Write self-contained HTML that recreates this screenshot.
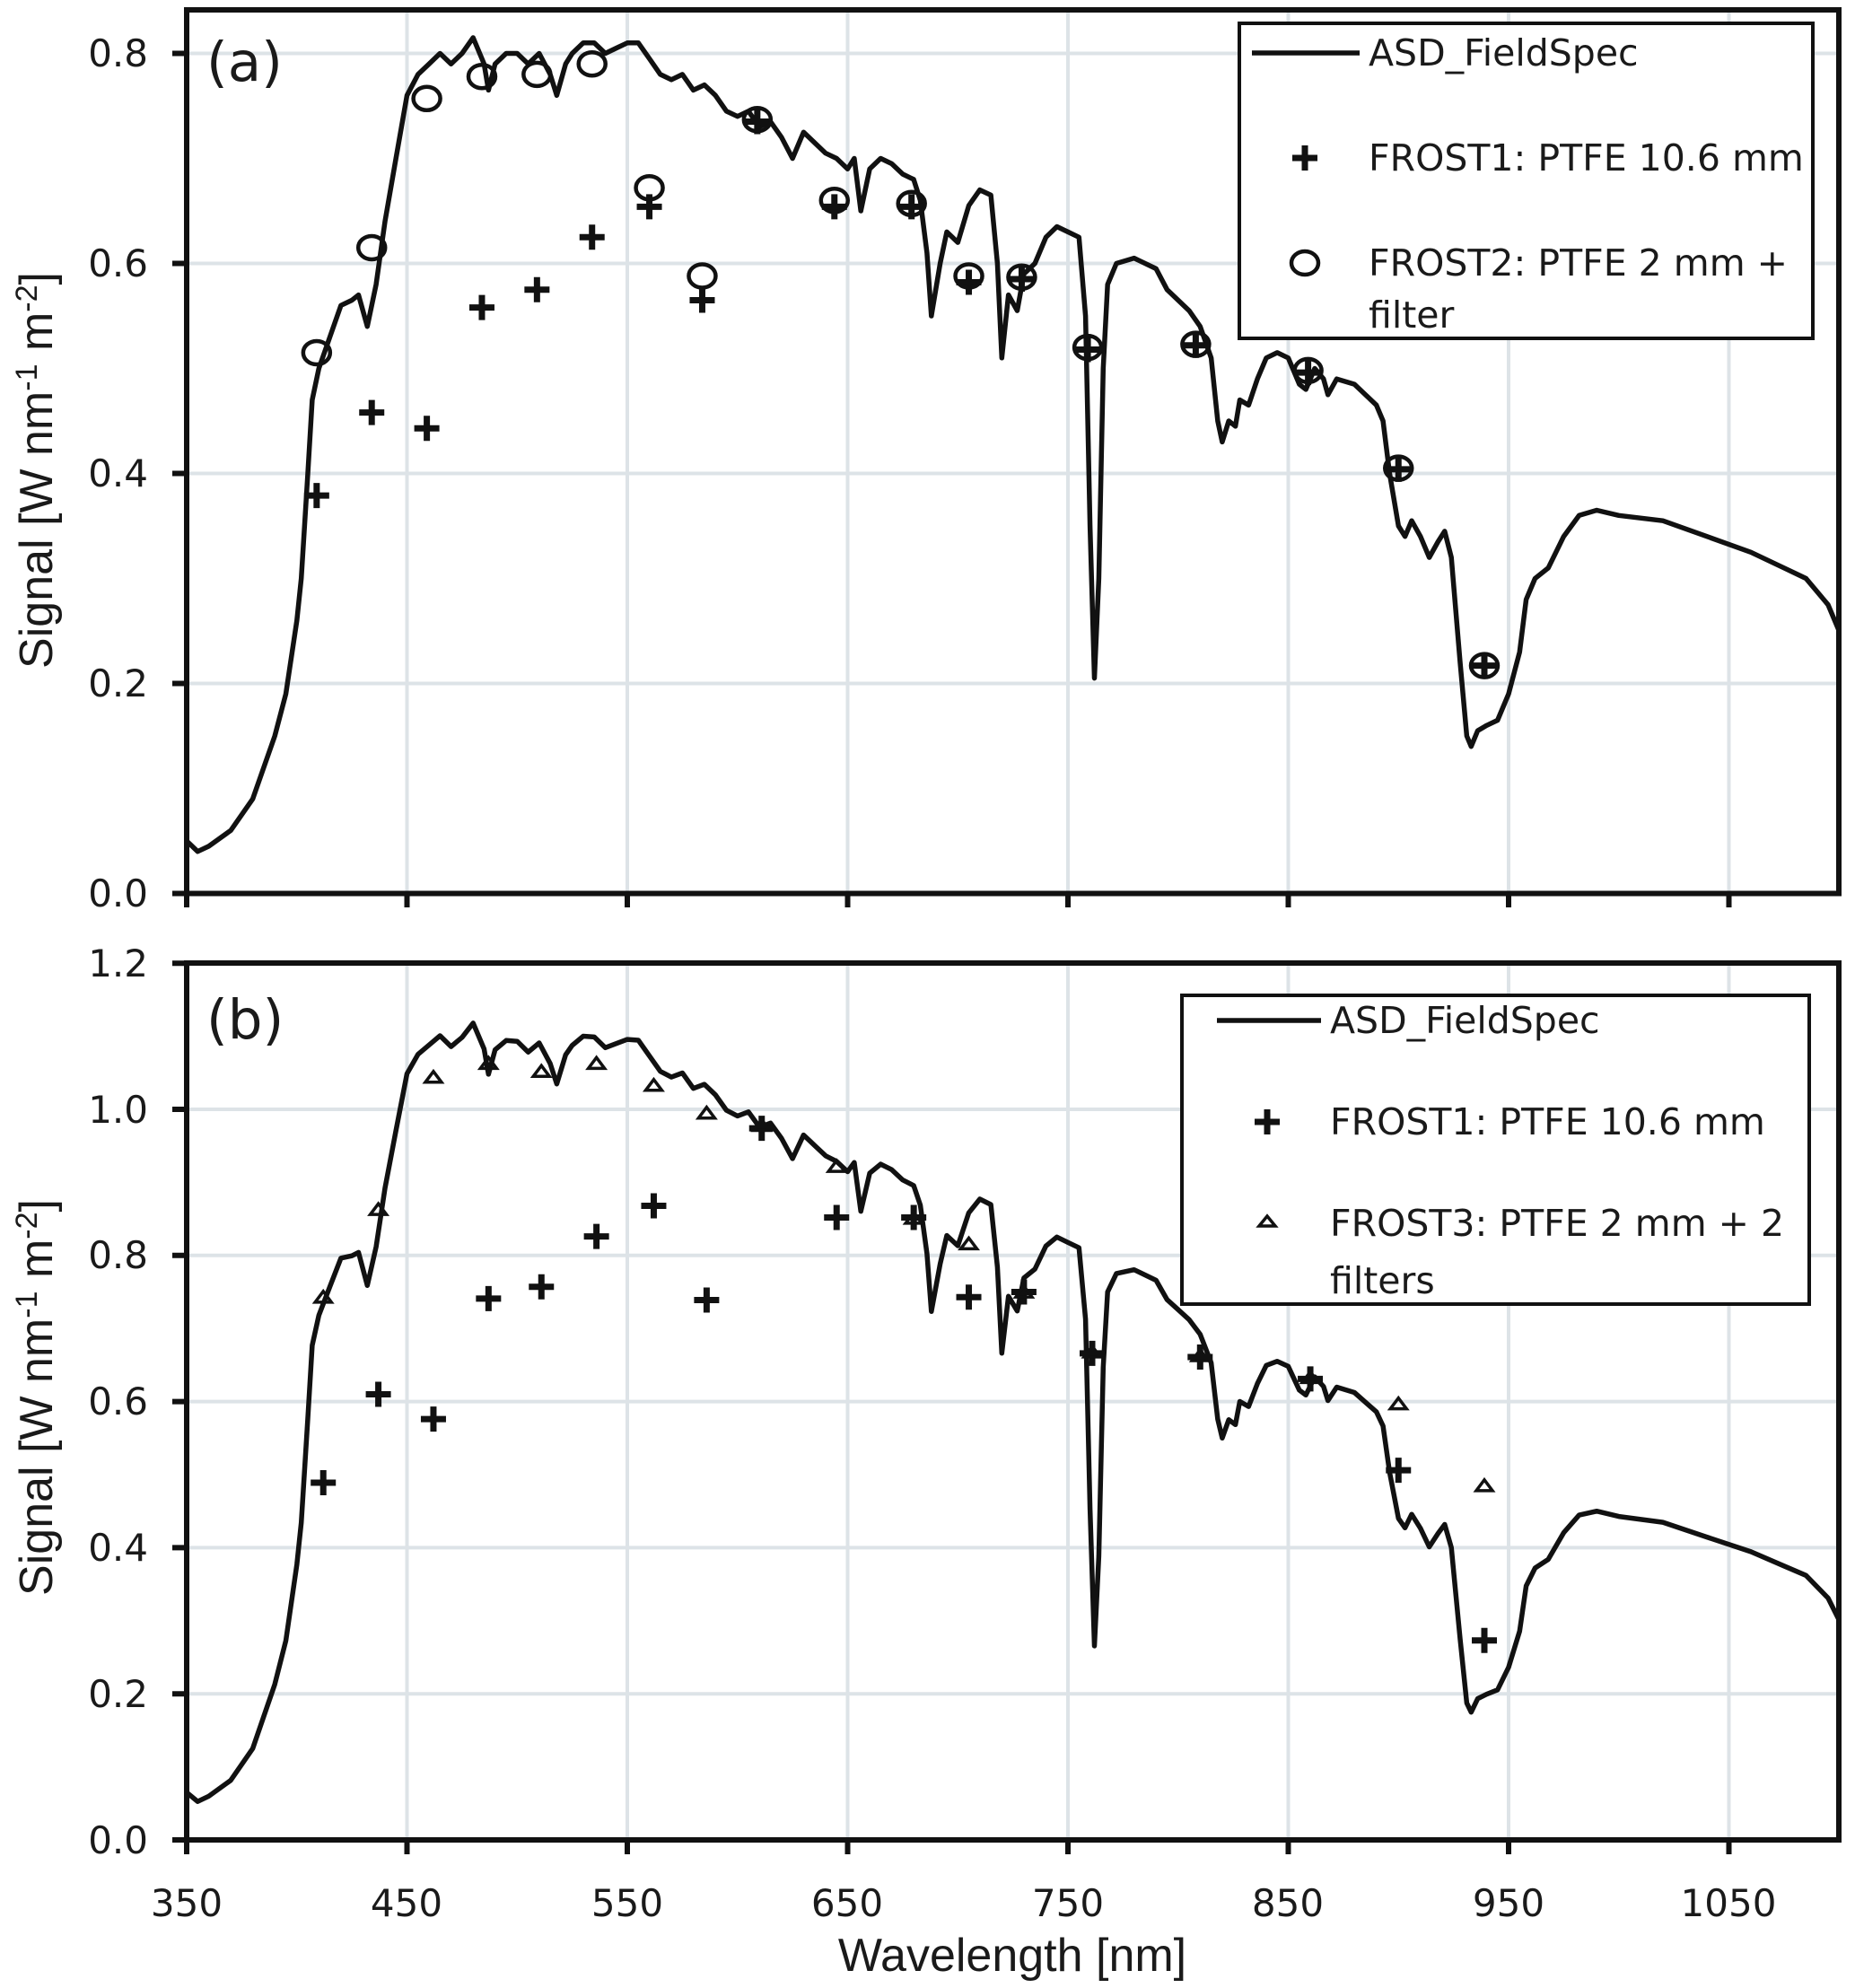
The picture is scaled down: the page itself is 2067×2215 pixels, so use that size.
<!DOCTYPE html>
<html><head><meta charset="utf-8"><style>
html,body{margin:0;padding:0;background:#fff;}
svg{display:block;}
.tk{font-family:"DejaVu Sans","Liberation Sans",sans-serif;font-size:42px;fill:#1a1a1a;}
.lg{font-family:"DejaVu Sans","Liberation Sans",sans-serif;font-size:41px;fill:#1a1a1a;}
.tt{font-family:"Liberation Sans",sans-serif;font-size:52px;fill:#1a1a1a;}
.pl{font-family:"DejaVu Sans","Liberation Sans",sans-serif;font-size:61px;fill:#1a1a1a;}
</style></head><body>
<svg id="s" width="2067" height="2215" viewBox="0 0 2067 2215" xmlns="http://www.w3.org/2000/svg">
<rect width="2067" height="2215" fill="#fff"/>
<g id="grid" stroke="#dde3e7" stroke-width="4"></g>
<g id="curves" fill="none" stroke="#111" stroke-width="5.5" stroke-linejoin="round"></g>
<g id="marks" fill="none" stroke="#111"></g>
<g id="axes" stroke="#111" stroke-width="6" fill="none"></g>
<g class="tk" text-anchor="end">
<text x="165" y="74">0.8</text><text x="165" y="308">0.6</text><text x="165" y="542">0.4</text><text x="165" y="776">0.2</text><text x="165" y="1010">0.0</text>
<text x="165" y="1088">1.2</text><text x="165" y="1251">1.0</text><text x="165" y="1413">0.8</text><text x="165" y="1576">0.6</text><text x="165" y="1739">0.4</text><text x="165" y="1902">0.2</text><text x="165" y="2065">0.0</text>
</g>
<g class="tk" text-anchor="middle">
<text x="208" y="2135">350</text><text x="453" y="2135">450</text><text x="699" y="2135">550</text><text x="944" y="2135">650</text><text x="1190" y="2135">750</text><text x="1435" y="2135">850</text><text x="1681" y="2135">950</text><text x="1926" y="2135">1050</text>
</g>
<text class="tt" x="1128" y="2196" text-anchor="middle">Wavelength [nm]</text>
<text class="tt" transform="translate(58,524) rotate(-90)" text-anchor="middle">Signal [W nm<tspan dy="-17" font-size="34">-1</tspan><tspan dy="17"> m</tspan><tspan dy="-17" font-size="34">-2</tspan><tspan dy="17">]</tspan></text>
<text class="tt" transform="translate(58,1557) rotate(-90)" text-anchor="middle">Signal [W nm<tspan dy="-17" font-size="34">-1</tspan><tspan dy="17"> m</tspan><tspan dy="-17" font-size="34">-2</tspan><tspan dy="17">]</tspan></text>
<text class="pl" x="230" y="90">(a)</text>
<text class="pl" x="230" y="1157">(b)</text>
<rect x="1381" y="26" width="639" height="351" fill="#fff" stroke="#111" stroke-width="4"/>
<line x1="1395" y1="59" x2="1515" y2="59" stroke="#111" stroke-width="5.5"/>
<g class="lg"><text x="1525" y="73">ASD_FieldSpec</text><text x="1525" y="190">FROST1: PTFE 10.6 mm</text><text x="1525" y="307">FROST2: PTFE 2 mm +</text><text x="1525" y="365">filter</text></g>
<path d="M1440 176h28M1454 162v28" stroke="#111" stroke-width="7"/>
<ellipse cx="1454" cy="293" rx="15" ry="13" fill="none" stroke="#111" stroke-width="4.5"/>
<rect x="1317" y="1109" width="699" height="344" fill="#fff" stroke="#111" stroke-width="4"/>
<line x1="1356" y1="1137" x2="1472" y2="1137" stroke="#111" stroke-width="5.5"/>
<g class="lg"><text x="1482" y="1151">ASD_FieldSpec</text><text x="1482" y="1264">FROST1: PTFE 10.6 mm</text><text x="1482" y="1377">FROST3: PTFE 2 mm + 2</text><text x="1482" y="1441">filters</text></g>
<path d="M1398 1250h28M1412 1236v28" stroke="#111" stroke-width="7"/>
<path d="M1412 1355l-9 11h18z" fill="none" stroke="#111" stroke-width="3.5"/>
</svg>
<script>
(function(){
var NS="http://www.w3.org/2000/svg";
function el(p,t,a){var e=document.createElementNS(NS,t);for(var k in a)e.setAttribute(k,a[k]);p.appendChild(e);return e;}
var X=function(l){return 208+(l-350)*2.455;};
var YA=function(v){return 995.5-v*1170;};
var YB=function(v){return 2050-v*814;};
var L=208,R=2049;
var g=document.getElementById('grid'),ax=document.getElementById('axes');
for(var l=450;l<=1050;l+=100){el(g,'line',{x1:X(l),x2:X(l),y1:11,y2:995});el(g,'line',{x1:X(l),x2:X(l),y1:1073,y2:2050});}
[0.2,0.4,0.6,0.8].forEach(function(v){el(g,'line',{x1:L,x2:R,y1:YA(v),y2:YA(v)});});
[0.2,0.4,0.6,0.8,1.0].forEach(function(v){el(g,'line',{x1:L,x2:R,y1:YB(v),y2:YB(v)});});
el(ax,'rect',{x:L,y:11,width:R-L,height:995.5-11});
el(ax,'rect',{x:L,y:1073,width:R-L,height:2050-1073});
var t='';
for(var l=350;l<=1050;l+=100){t+='M'+X(l)+' 995v16M'+X(l)+' 2050v16';}
[0,0.2,0.4,0.6,0.8].forEach(function(v){t+='M'+L+' '+YA(v)+'h-16';});
[0,0.2,0.4,0.6,0.8,1.0,1.2].forEach(function(v){t+='M'+L+' '+YB(v)+'h-16';});
el(ax,'path',{d:t});
var P=[[350,.05],[355,.04],[360,.045],[370,.06],[380,.09],[390,.15],[395,.19],[400,.26],[402,.30],[405,.40],[407,.47],[410,.50],[415,.53],[420,.56],[425,.565],[428,.57],[432,.54],[436,.58],[440,.64],[445,.70],[450,.76],[455,.78],[460,.79],[465,.80],[470,.79],[475,.80],[480,.815],[485,.79],[487,.765],[490,.79],[495,.80],[500,.80],[505,.79],[510,.80],[515,.78],[518,.76],[522,.79],[525,.80],[530,.81],[535,.81],[540,.80],[545,.805],[550,.81],[555,.81],[560,.795],[565,.78],[570,.775],[575,.78],[580,.765],[585,.77],[590,.76],[595,.745],[600,.74],[605,.745],[610,.73],[615,.735],[620,.72],[625,.70],[630,.725],[635,.715],[640,.705],[645,.70],[650,.69],[653,.70],[656,.65],[660,.69],[665,.70],[670,.695],[675,.685],[680,.68],[683,.66],[686,.61],[688,.55],[692,.60],[695,.63],[700,.62],[705,.655],[710,.67],[715,.665],[718,.60],[720,.51],[723,.57],[727,.555],[730,.59],[735,.60],[740,.625],[745,.635],[750,.63],[755,.625],[758,.55],[760,.35],[762,.205],[764,.30],[766,.50],[768,.58],[772,.60],[780,.605],[790,.595],[795,.575],[800,.565],[805,.555],[810,.54],[815,.51],[818,.45],[820,.43],[823,.45],[826,.445],[828,.47],[832,.465],[836,.49],[840,.51],[845,.515],[850,.51],[855,.485],[858,.48],[862,.50],[866,.49],[868,.475],[872,.49],[880,.485],[890,.465],[893,.45],[896,.40],[900,.35],[903,.34],[906,.355],[910,.34],[914,.32],[918,.335],[921,.345],[924,.32],[928,.22],[931,.15],[933,.14],[936,.155],[940,.16],[945,.165],[950,.19],[955,.23],[958,.28],[962,.30],[968,.31],[975,.34],[982,.36],[990,.365],[1000,.36],[1020,.355],[1040,.34],[1060,.325],[1075,.31],[1085,.30],[1095,.275],[1100,.25]];
function r(l){if(l<400)return 1.3+(l-350)/50*0.15;if(l<450)return 1.45-(l-400)/50*0.07;return 1.38-(l-450)/550*0.15;}
var c=document.getElementById('curves'),a='',b='';
P.forEach(function(p,i){a+=(i?'L':'M')+X(p[0]).toFixed(1)+' '+YA(p[1]).toFixed(1);b+=(i?'L':'M')+X(p[0]).toFixed(1)+' '+YB(p[1]*r(p[0])).toFixed(1);});
el(c,'path',{d:a});el(c,'path',{d:b});
var m=document.getElementById('marks');
function cross(x,y){el(m,'path',{d:'M'+(x-14)+' '+y+'h28M'+x+' '+(y-14)+'v28','stroke-width':7});}
function circ(x,y){el(m,'ellipse',{cx:x,cy:y,rx:15,ry:13,'stroke-width':4.5});}
function tri(x,y){el(m,'path',{d:'M'+x+' '+(y-8)+'l-9 12h18z','stroke-width':3.5});}
var LA=[409,434,459,484,509,534,560,584,609,644,679,705,729,759,808,859,900,939];
var CA=[.379,.458,.443,.558,.575,.625,.654,.565,.735,.654,.654,.582,.585,.518,.522,.496,.404,.217];
var OA=[.515,.615,.757,.778,.78,.79,.672,.588,.737,.66,.657,.588,.587,.52,.523,.498,.405,.217];
LA.forEach(function(l,i){cross(X(l),YA(CA[i]));circ(X(l),YA(OA[i]));});
var LB=[412,437,462,487,511,536,562,586,611,645,680,705,730,761,810,860,900,939];
var CB=[.489,.61,.576,.741,.757,.826,.868,.739,.974,.852,.852,.743,.75,.666,.661,.631,.506,.273];
var TB=[.741,.861,1.042,1.061,1.05,1.061,1.031,.993,.976,.92,.849,.814,.748,.666,.661,.631,.595,.483];
LB.forEach(function(l,i){cross(X(l),YB(CB[i]));tri(X(l),YB(TB[i]));});
})();
</script>
</body></html>
